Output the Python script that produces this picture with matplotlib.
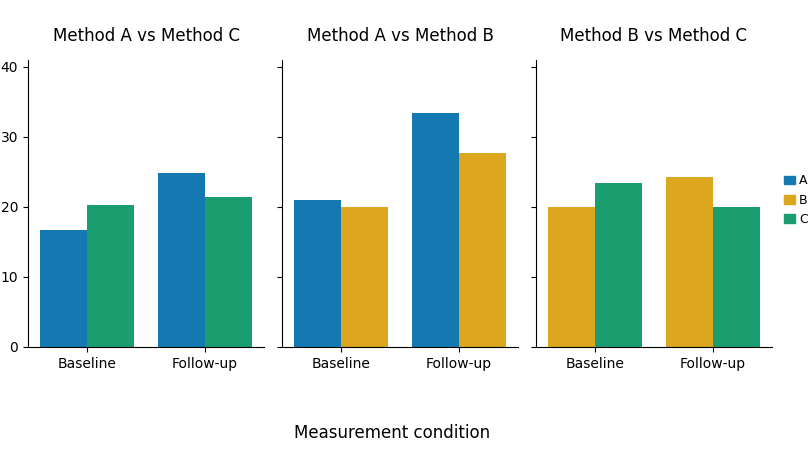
import numpy as np
import matplotlib
matplotlib.use("Agg")
import matplotlib.pyplot as plt
from matplotlib.patches import Patch

# categories on the x axis of every panel
conditions = ["Baseline", "Follow-up"]

# panel titles (pairwise comparisons)
panel_titles = ["Method A vs Method C", "Method A vs Method B", "Method B vs Method C"]

# scores per method inside each panel
ac_a = [16.7, 24.9]
ac_c = [20.3, 21.4]
ab_a = [21.0, 33.4]
ab_b = [20.0, 27.7]
bc_b = [20.0, 24.3]
bc_c = [23.4, 20.0]

methods = ["A", "B", "C"]
colors = {"A": "#1479b0", "B": "#dca71f", "C": "#1b9e6f"}

panels = [
    (("A", ac_a), ("C", ac_c)),
    (("A", ab_a), ("B", ab_b)),
    (("B", bc_b), ("C", bc_c)),
]

fig, axes = plt.subplots(1, 3, figsize=(8.08, 4.55), dpi=100, sharey=True)
fig.subplots_adjust(left=28/808, right=772/808, top=1-60/455, bottom=1-347/455, wspace=0.076)

x = np.arange(len(conditions))
w = 0.4
for ax, title, panel in zip(axes, panel_titles, panels):
    (m1, v1), (m2, v2) = panel
    ax.bar(x - w/2, v1, w, color=colors[m1])
    ax.bar(x + w/2, v2, w, color=colors[m2])
    ax.set_xticks(x)
    ax.set_xticklabels(conditions, fontsize=10)
    ax.set_xlim(-0.5, 1.5)
    ax.set_title(title, fontsize=12, pad=14)
    ax.spines["top"].set_visible(False)
    ax.spines["right"].set_visible(False)

axes[0].set_ylim(0, 41)
axes[0].set_yticks([0, 10, 20, 30, 40])
axes[0].tick_params(axis="y", labelsize=10)

fig.text(0.485, 0.048, "Measurement condition", ha="center", va="center", fontsize=12)

# legend squeezed against the right edge, as in the reference
handles = [Patch(color=colors[m], label=m) for m in methods]
fig.legend(handles=handles, loc="center left", bbox_to_anchor=(784/808, 0.56),
           frameon=False, fontsize=9, handlelength=0.9, handletextpad=0.3,
           borderaxespad=0, borderpad=0)

fig.savefig("out.png", dpi=100)
